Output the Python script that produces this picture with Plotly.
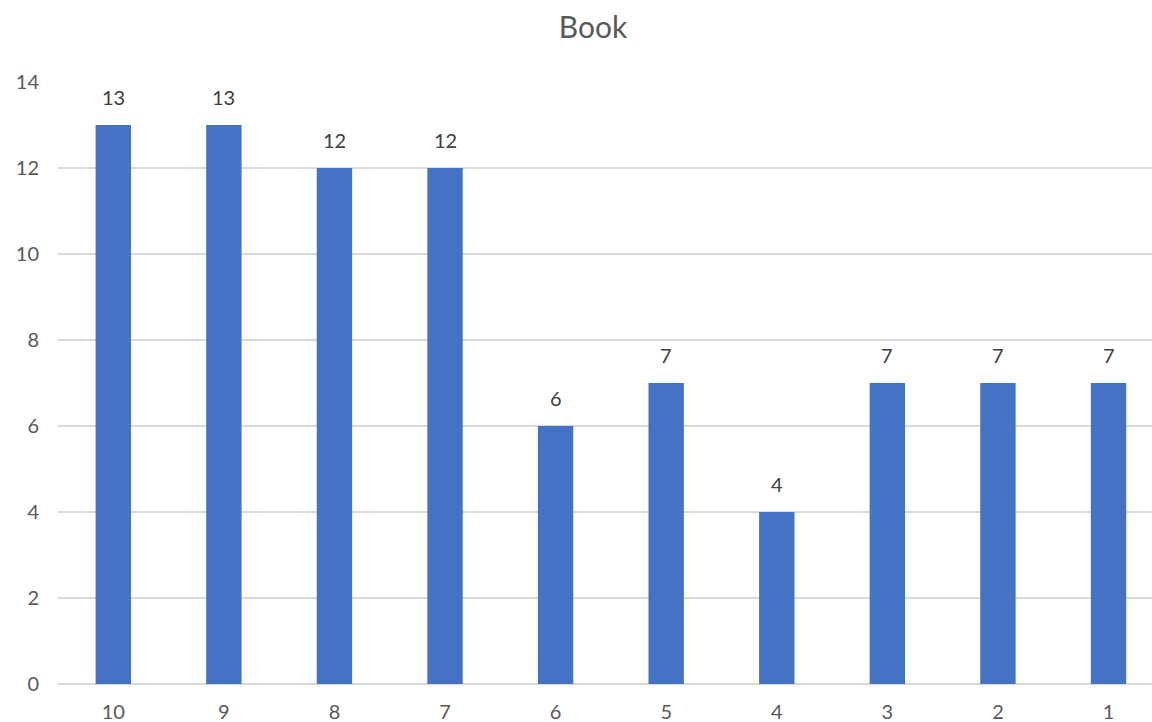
import plotly.graph_objects as go

# Book counts per rank (ranks listed from 10 down to 1)
ranks = ["10", "9", "8", "7", "6", "5", "4", "3", "2", "1"]
counts = [13, 13, 12, 12, 6, 7, 4, 7, 7, 7]
y_ticks = [0, 2, 4, 6, 8, 10, 12, 14]

FONT = "Lato, 'Open Sans', sans-serif"
BAR_COLOR = "#4472C4"
GRID_COLOR = "#D9D9D9"

fig = go.Figure(
    go.Bar(
        x=ranks,
        y=counts,
        marker=dict(color=BAR_COLOR, line=dict(width=0)),
        width=0.32,
        hoverinfo="x+y",
    )
)

# value labels above each bar (category position given by index)
for i, c in enumerate(counts):
    fig.add_annotation(
        x=i, y=c, text=str(c), showarrow=False,
        yanchor="bottom", yshift=14,
        font=dict(family=FONT, size=20, color="#404040"),
    )

fig.update_layout(
    width=1152,
    height=722,
    paper_bgcolor="white",
    plot_bgcolor="white",
    margin=dict(l=58, r=0, t=82, b=38),
    showlegend=False,
    title=dict(
        text="Book",
        x=593 / 1152, xref="container", xanchor="center",
        y=1 - 27 / 722, yref="container", yanchor="middle",
        font=dict(family=FONT, size=30, color="#595959"),
    ),
    font=dict(family=FONT, size=20, color="#595959"),
)

fig.update_xaxes(
    type="category",
    range=[-0.5, 9.5 - 11.8 / 110.6],
    showgrid=False,
    showline=False,
    zeroline=False,
    ticks="",
    ticklabelstandoff=14,
    tickfont=dict(family=FONT, size=20, color="#595959"),
)

fig.update_yaxes(
    range=[0, 14],
    tickvals=y_ticks,
    showgrid=True,
    gridcolor=GRID_COLOR,
    gridwidth=1.5,
    zeroline=True,
    zerolinecolor=GRID_COLOR,
    zerolinewidth=2,
    showline=False,
    ticks="",
    ticklabelstandoff=18,
    tickfont=dict(family=FONT, size=20, color="#595959"),
)

fig.write_html("out.html")
